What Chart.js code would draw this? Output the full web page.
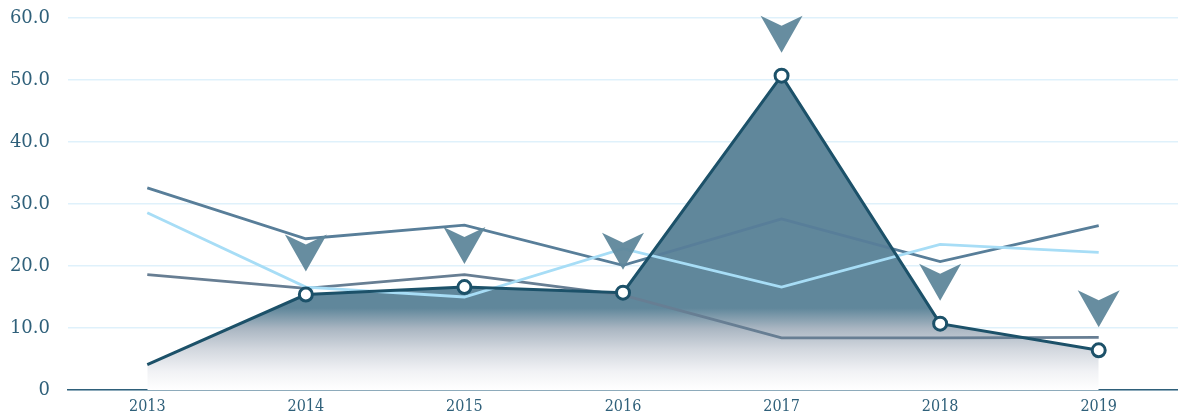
<!DOCTYPE html>
<html>
<head>
<meta charset="utf-8">
<script src="https://cdn.jsdelivr.net/npm/chart.js@4/dist/chart.umd.min.js"></script>
<style>
  html, body { margin: 0; padding: 0; background: #fff; }
  #wrap { width: 1178px; height: 419px; }
</style>
</head>
<body>
<div id="wrap"><canvas id="trendChart"></canvas></div>
<script>
// chart data
const years = ['2013', '2014', '2015', '2016', '2017', '2018', '2019'];
const mainSeries = [4.1, 15.4, 16.6, 15.7, 50.7, 10.7, 6.4];
const upperGray = [32.6, 24.4, 26.6, 20.1, 27.6, 20.7, 26.5];
const lowerGray = [18.6, 16.4, 18.6, 15.3, 8.4, 8.4, 8.5];
const lightBlue = [28.6, 16.6, 15.0, 22.8, 16.6, 23.5, 22.2];
const yTicks = [0, 10, 20, 30, 40, 50, 60];

const textColor = '#2f607a';
const darkLine = '#1c5169';

// fill gradient: solid down to ~13, then fading out to the axis
function areaFill(context) {
    const area = context.chart.chartArea;
    if (!area) return 'rgba(98,138,156,1)';
    const g = context.chart.ctx.createLinearGradient(0, area.top, 0, area.bottom);
    g.addColorStop(0, '#60879b');
    g.addColorStop(0.78, '#60879b');
    g.addColorStop(0.835, '#aab6c2');
    g.addColorStop(0.89, '#d2d7de');
    g.addColorStop(0.95, '#f1f2f5');
    g.addColorStop(1, '#ffffff');
    return g;
}

// down arrows above the marked points of the main series
const chevronPlugin = {
    id: 'chevrons',
    afterDatasetsDraw(chart) {
        const meta = chart.getDatasetMeta(4);
        const ctx = chart.ctx;
        ctx.save();
        ctx.fillStyle = 'rgba(95,135,155,0.95)';
        meta.data.forEach((pt, i) => {
            if (i === 0) return;
            const x = pt.x, y = pt.y - 23;
            ctx.beginPath();
            ctx.moveTo(x, y);
            ctx.lineTo(x - 21, y - 37);
            ctx.lineTo(x, y - 27);
            ctx.lineTo(x + 21, y - 37);
            ctx.closePath();
            ctx.fill();
        });
        ctx.restore();
    }
};

document.addEventListener('DOMContentLoaded', function() {
    const ctx = document.getElementById('trendChart');
    new Chart(ctx, {
        type: 'line',
        data: {
            labels: years,
            datasets: [
                {
                    label: 'area',
                    data: mainSeries,
                    fill: 'origin',
                    backgroundColor: areaFill,
                    borderWidth: 0,
                    pointRadius: 0,
                    order: 5
                },
                {
                    label: 'upper',
                    data: upperGray,
                    borderColor: '#587e99',
                    borderWidth: 2.8,
                    pointRadius: 0,
                    tension: 0,
                    order: 3
                },
                {
                    label: 'lower',
                    data: lowerGray,
                    borderColor: '#677e93',
                    borderWidth: 2.8,
                    pointRadius: 0,
                    tension: 0,
                    order: 4
                },
                {
                    label: 'light',
                    data: lightBlue,
                    borderColor: '#a7ddf6',
                    borderWidth: 2.8,
                    pointRadius: 0,
                    tension: 0,
                    order: 2
                },
                {
                    label: 'main',
                    data: mainSeries,
                    fill: false,
                    borderColor: darkLine,
                    borderWidth: 3,
                    pointRadius: ctx => ctx.dataIndex === 0 ? 0 : 6.5,
                    pointBackgroundColor: '#ffffff',
                    pointBorderColor: darkLine,
                    pointBorderWidth: 3,
                    tension: 0,
                    order: 1
                }
            ]
        },
        options: {
            responsive: true,
            maintainAspectRatio: false,
            animation: false,
            layout: { autoPadding: false, padding: { top: 18, right: 0, left: 0, bottom: 0 } },
            plugins: {
                legend: { display: false },
                tooltip: { enabled: false }
            },
            scales: {
                x: {
                    offset: true,
                    afterFit: s => { s.height = 29; s.paddingLeft = 0; s.paddingRight = 0; },
                    grid: { display: false, drawTicks: false },
                    border: { display: true, color: textColor, width: 1.5 },
                    ticks: {
                        color: textColor,
                        padding: 7,
                        font: { family: "'DejaVu Serif Condensed', 'DejaVu Serif'", size: 16 }
                    }
                },
                y: {
                    min: 0,
                    max: 60,
                    afterFit: s => { s.width = 68; s.paddingTop = 0; s.paddingBottom = 0; },
                    afterBuildTicks: s => { s.ticks = yTicks.map(v => ({ value: v })); },
                    grid: { color: '#dff1fb', lineWidth: 1.5, drawTicks: false },
                    border: { display: false },
                    ticks: {
                        color: textColor,
                        padding: 18,
                        font: { family: "'DejaVu Serif'", size: 18 },
                        callback: v => v === 0 ? '0' : v.toFixed(1)
                    }
                }
            }
        },
        plugins: [chevronPlugin]
    });
});
</script>
</body>
</html>
